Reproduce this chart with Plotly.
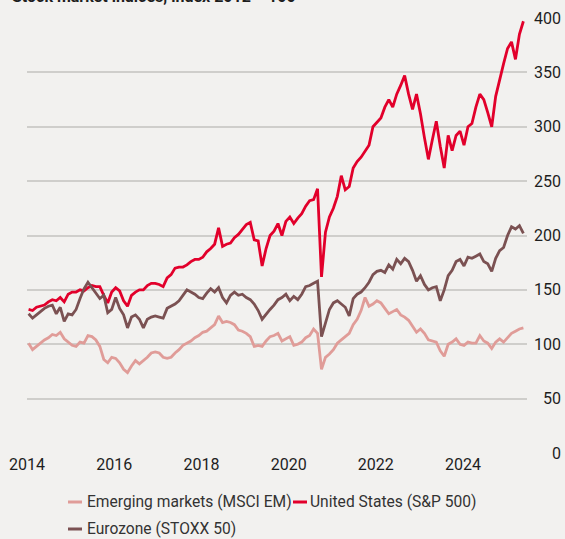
import plotly.graph_objects as go

# ---- data (monthly, Jan 2014 .. Jun 2024, index 2012 = 100) ----
start_year = 2014
n_months = 126

em_msci = [
    101, 95, 98, 101, 104, 106, 109, 108, 111, 105, 102, 99,     # 2014
    98, 102, 101, 108, 107, 104, 98, 86, 83, 88, 87, 83,         # 2015
    77, 74, 80, 85, 82, 85, 88, 92, 93, 92, 88, 87,              # 2016
    88, 92, 95, 99, 101, 103, 106, 108, 111, 112, 115, 118,      # 2017
    126, 120, 121, 120, 118, 113, 112, 110, 107, 98, 99, 98,     # 2018
    103, 107, 108, 110, 103, 105, 107, 99, 100, 102, 106, 108,   # 2019
    114, 110, 77, 88, 91, 95, 101, 104, 107, 110, 118, 123,      # 2020
    131, 143, 135, 137, 140, 138, 133, 128, 130, 132, 127, 125,  # 2021
    122, 117, 111, 114, 110, 104, 103, 102, 94, 89, 100, 102,    # 2022
    105, 100, 99, 102, 101, 101, 108, 103, 101, 96, 102, 105,    # 2023
    102, 106, 110, 112, 114, 115,                                # 2024
]

us_sp500 = [
    132, 131, 134, 135, 136, 139, 141, 140, 143, 139, 146, 148,  # 2014
    148, 150, 149, 152, 154, 153, 153, 145, 138, 148, 152, 149,  # 2015
    140, 135, 145, 148, 150, 150, 154, 156, 156, 155, 153, 161,  # 2016
    164, 170, 171, 171, 173, 176, 178, 178, 180, 185, 188, 192,  # 2017
    207, 190, 192, 193, 198, 201, 206, 210, 212, 196, 195, 172,  # 2018
    188, 200, 204, 211, 200, 213, 217, 211, 216, 220, 227, 232,  # 2019
    233, 243, 162, 203, 217, 225, 236, 255, 242, 245, 262, 268,  # 2020
    272, 278, 283, 300, 304, 308, 318, 325, 318, 330, 338, 347,  # 2021
    330, 316, 330, 312, 290, 270, 288, 305, 282, 262, 292, 278,  # 2022
    292, 296, 283, 300, 303, 318, 330, 325, 313, 300, 328, 344,  # 2023
    358, 372, 378, 362, 385, 397,                                # 2024
]

eu_stoxx50 = [
    128, 124, 127, 130, 133, 135, 136, 128, 134, 121, 128, 127,  # 2014
    132, 142, 151, 157, 152, 148, 142, 145, 129, 132, 143, 133,  # 2015
    127, 115, 125, 127, 123, 115, 123, 125, 126, 125, 124, 133,  # 2016
    135, 137, 140, 145, 150, 148, 146, 143, 142, 147, 151, 148,  # 2017
    152, 143, 138, 145, 148, 145, 146, 143, 141, 137, 131, 123,  # 2018
    128, 132, 136, 141, 143, 146, 140, 144, 141, 146, 153, 154,  # 2019
    156, 158, 107, 120, 132, 138, 140, 137, 134, 126, 142, 146,  # 2020
    148, 152, 157, 164, 167, 168, 166, 173, 169, 178, 174, 179,  # 2021
    176, 168, 158, 163, 155, 150, 152, 153, 140, 150, 163, 168,  # 2022
    176, 178, 172, 180, 179, 181, 183, 176, 174, 167, 179, 186,  # 2023
    189, 200, 208, 206, 209, 202,                                # 2024
]

series_names = ["Emerging markets (MSCI EM)", "United States (S&P 500)", "Eurozone (STOXX 50)"]
series_colors = ["#e09c98", "#e2002b", "#7b5152"]
x_tick_labels = ["2014", "2016", "2018", "2020", "2022", "2024"]
y_tick_values = [0, 50, 100, 150, 200, 250, 300, 350, 400]
title_text = "Stock market indices, index 2012 = 100"

# ---- figure ----
x_dates = [start_year + (i + 0.4) / 12 for i in range(n_months)]
x_range = [2014.0, 2024.526]

fig = go.Figure()
for name, vals, col in zip(series_names, [em_msci, us_sp500, eu_stoxx50], series_colors):
    fig.add_trace(go.Scatter(x=x_dates, y=vals, mode="lines", name=name,
                             line=dict(color=col, width=2.8), showlegend=False))

FONT = "Roboto, 'Noto Sans', sans-serif"
bg = "#f2f1ef"

# tick label positions (spread evenly as in source)
label_step = 1.836
tickvals = [x_range[0] + label_step * k for k in range(len(x_tick_labels))]

fig.update_layout(
    width=565, height=539,
    margin=dict(l=27, r=38, t=18, b=86, autoexpand=False),
    paper_bgcolor=bg, plot_bgcolor=bg,
    font=dict(family=FONT, size=16, color="#1e1e1e"),
    xaxis=dict(range=x_range, showgrid=False, zeroline=False, showline=False,
               tickvals=tickvals, ticktext=x_tick_labels, ticks="", automargin=False,
               tickfont=dict(family=FONT, size=16, color="#1e1e1e")),
    yaxis=dict(range=[0, 400], tickvals=y_tick_values, showticklabels=False,
               showgrid=True, gridcolor="#cfcecb", gridwidth=1.5, automargin=False,
               zeroline=False, showline=False, ticks=""),
    hovermode=False,
)

# y tick labels, right aligned on right side
for v in y_tick_values:
    fig.add_annotation(x=1.072, y=v, xref="paper", yref="y", text=str(v),
                       showarrow=False, xanchor="right", yanchor="middle",
                       font=dict(family=FONT, size=16, color="#1e1e1e"))

# clipped title at top
fig.add_annotation(x=-0.034, y=1.0485, xref="paper", yref="paper", text="<b>" + title_text + "</b>",
                   showarrow=False, xanchor="left", yanchor="middle",
                   font=dict(family=FONT, size=16, color="#1e1e1e"))

# custom legend
def px_x(p):
    return (p - 27) / 500.0

def px_y(p):
    return (453 - p) / 435.0

legend_items = [(68, 85, 502), (293, 308, 502), (68, 85, 529)]
for (sx, tx, ty), name, col in zip(legend_items, series_names, series_colors):
    fig.add_shape(type="line", xref="paper", yref="paper",
                  x0=px_x(sx), x1=px_x(sx + 14), y0=px_y(ty), y1=px_y(ty),
                  line=dict(color=col, width=3))
    fig.add_annotation(x=px_x(tx), y=px_y(ty), xref="paper", yref="paper", text=name,
                       showarrow=False, xanchor="left", yanchor="middle",
                       font=dict(family=FONT, size=15.6, color="#333333"))

fig.write_html("out.html", config={"displayModeBar": False},
               post_script="document.body.style.margin='0';document.body.style.padding='0';document.body.style.overflow='hidden';")
